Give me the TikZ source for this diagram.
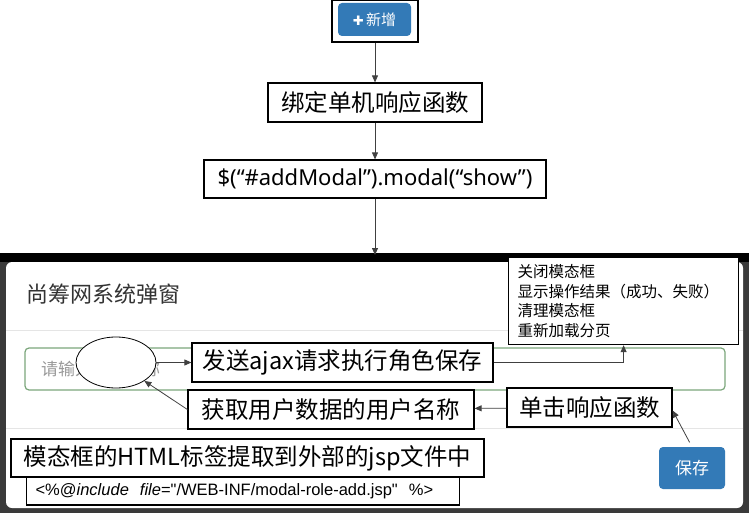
\documentclass[tikz,border=0pt]{standalone}
\usepackage{fontspec}
\usetikzlibrary{arrows.meta, shapes.geometric}
\newfontfamily\cjk{Noto Sans CJK SC}
\newfontfamily\latinfont{Noto Sans}
\newfontfamily\codefont{Liberation Sans}
\newfontfamily\symfont{DejaVu Sans}
\definecolor{btnblue}{HTML}{337AB7}
\definecolor{inputgreen}{HTML}{7BA67B}
\definecolor{rulegray}{HTML}{E5E5E5}
\definecolor{backdrop}{HTML}{3A3A3A}
\definecolor{arrowgray}{HTML}{404040}
\definecolor{titlegray}{HTML}{333333}
\definecolor{hintgray}{HTML}{999999}

\tikzset{
  notebox/.style={draw=black, fill=white, line width=1.2pt, inner sep=0pt, font=\cjk\fontsize{23.5}{28}\selectfont},
  flowarrow/.style={draw=arrowgray, line width=0.8pt, -{Triangle[length=7pt,width=6pt]}},
  bsbutton/.style={fill=btnblue, rounded corners=4pt, text=white, inner sep=0pt},
}

\begin{document}
\begin{tikzpicture}[x=1pt,y=-1pt]
  \useasboundingbox (0,0) rectangle (749,513);

  % Draw the trigger button
  \node[notebox, minimum width=86pt, minimum height=42pt] (addbox) at (375,21) {};
  \node[bsbutton, minimum width=73pt, minimum height=33pt, font=\cjk\fontsize{15}{18}\selectfont] (addbtn) at (374.5,19.5) {{\symfont\fontsize{13}{13}\selectfont ✚}\,新增};

  % Draw the flow boxes
  \node[notebox, minimum width=214pt, minimum height=39pt] (bindbox) at (375,102.5) {绑定单机响应函数};
  \node[notebox, minimum width=342pt, minimum height=38pt, font=\latinfont\fontsize{22}{26}\selectfont] (showbox) at (375,179) {\$(“\#addModal”).modal(“show”)};
  \coordinate (modaltop) at (375,255);

  % Draw the modal window
  \fill[backdrop] (0,253) rectangle (749,513);
  \fill[black] (0,253) rectangle (749,262);
  \fill[white, rounded corners=6pt] (6,262) rectangle (743,508);
  \node[anchor=west, inner sep=0pt, text=titlegray, font=\cjk\fontsize{22}{26}\selectfont] (modaltitle) at (26,294) {尚筹网系统弹窗};
  \draw[rulegray, line width=1pt] (6,330) -- (743,330); % header line
  \draw[rulegray, line width=1pt] (6,428) -- (743,428); % footer line
  \node[draw=inputgreen, line width=1.2pt, rounded corners=4pt, minimum width=700pt, minimum height=42pt] (inputfield) at (375,369) {};
  \node[anchor=west, inner sep=0pt, text=hintgray, font=\cjk\fontsize{17}{20}\selectfont] (hint) at (41,369) {请输入用户名称};
  \node[draw, fill=white, ellipse, line width=0.8pt, inner sep=0pt, minimum width=80pt, minimum height=51pt] (namefield) at (116,362.5) {};
  \node[bsbutton, minimum width=66pt, minimum height=42pt, font=\cjk\fontsize{17}{20}\selectfont] (savebtn) at (692,468) {保存};

  % Add the notes
  \node[notebox, anchor=north west, minimum width=230pt, minimum height=87pt, text width=212pt, inner xsep=9pt, align=left, font=\cjk\fontsize{15.5}{19.5}\selectfont] (resultbox) at (508,257) {关闭模态框\\显示操作结果（成功、失败）\\清理模态框\\重新加载分页};
  \node[notebox, minimum width=301pt, minimum height=39pt] (sendbox) at (342.5,362.5) {发送ajax请求执行角色保存};
  \node[notebox, minimum width=286pt, minimum height=39pt] (getbox) at (331,409.5) {获取用户数据的用户名称};
  \node[notebox, minimum width=165pt, minimum height=39pt] (clickbox) at (589.5,407.5) {单击响应函数};
  \node[notebox, minimum width=473pt, minimum height=38pt] (htmlbox) at (247.5,458) {模态框的HTML标签提取到外部的jsp文件中};
  \node[notebox, anchor=west, minimum width=433pt, minimum height=28pt, text width=415pt, inner xsep=9pt, align=left, font=\codefont\fontsize{16.5}{19}\selectfont] (includebox) at (26,491) {<\%@\textit{include}\ \ \textit{file}="/WEB-INF/modal-role-add.jsp"\ \ \%>};

  % Draw the arrows
  \draw[flowarrow] (addbox) -- (bindbox);
  \draw[flowarrow] (bindbox) -- (showbox);
  \draw[flowarrow] (showbox) -- (modaltop);
  \draw[flowarrow] (namefield) -- (sendbox);
  \draw[flowarrow] (sendbox.east) -| (resultbox.south);
  \draw[flowarrow] (clickbox) -- (getbox);
  \draw[flowarrow] (getbox.west) -- (namefield.-33);
  \draw[flowarrow, shorten <=5pt] (savebtn.north) -- ([yshift=-3pt]clickbox.east);
\end{tikzpicture}
\end{document}
